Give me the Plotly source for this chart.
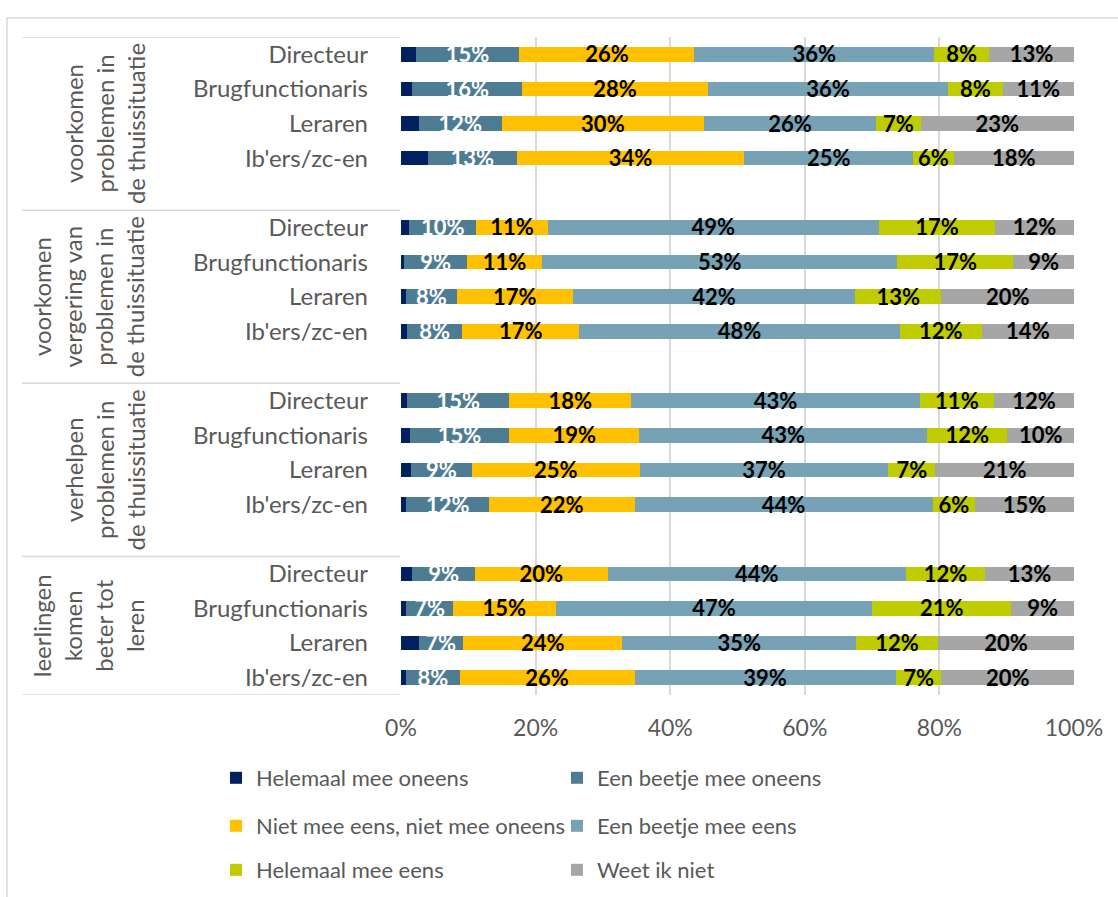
import plotly.graph_objects as go

# ---------------- data ----------------
groups = [
    "voorkomen<br>problemen in<br>de thuissituatie",
    "voorkomen<br>vergering van<br>problemen in<br>de thuissituatie",
    "verhelpen<br>problemen in<br>de thuissituatie",
    "leerlingen<br>komen<br>beter tot<br>leren",
]
roles = ["Directeur", "Brugfunctionaris", "Leraren", "Ib'ers/zc-en"]

series_names = [
    "Helemaal mee oneens",
    "Een beetje mee oneens",
    "Niet mee eens, niet mee oneens",
    "Een beetje mee eens",
    "Helemaal mee eens",
    "Weet ik niet",
]

# values per bar, in order: group 1 (Directeur, Brugf., Leraren, Ib'ers), group 2, group 3, group 4
helemaal_oneens = [2.2, 1.7, 2.6, 4.0, 1.2, 0.5, 0.7, 0.9, 0.9, 1.3, 1.5, 0.8, 1.7, 0.8, 2.6, 0.8]
beetje_oneens   = [15.4, 16.3, 12.4, 13.2, 10.0, 9.3, 7.6, 8.2, 15.2, 14.8, 9.0, 12.3, 9.3, 6.9, 6.6, 7.9]
neutraal        = [26.0, 27.6, 30.0, 33.8, 10.6, 11.2, 17.2, 17.4, 18.1, 19.3, 25.0, 21.6, 19.7, 15.3, 23.7, 26.0]
beetje_eens     = [35.6, 35.7, 25.6, 25.1, 49.2, 52.7, 42.0, 47.6, 42.9, 42.8, 36.9, 44.3, 44.3, 47.0, 34.7, 38.8]
helemaal_eens   = [8.2, 8.1, 6.6, 6.0, 17.3, 17.3, 12.8, 12.2, 11.0, 11.9, 7.0, 6.3, 11.8, 20.7, 12.2, 6.8]
weet_niet       = [12.6, 10.6, 22.8, 17.9, 11.7, 9.0, 19.7, 13.7, 11.9, 9.9, 20.6, 14.7, 13.2, 9.3, 20.2, 19.7]

x_ticks = [0, 20, 40, 60, 80, 100]

# ---------------- style ----------------
colors = ["#002060", "#4E7D93", "#FFC000", "#77A2B5", "#BFCC00", "#A6A6A6"]
label_colors = [None, "#FFFFFF", "#000000", "#000000", "#000000", "#000000"]
FONT = "Lato"
GRAY = "#595959"
LINE = "#D9D9D9"

W, H = 1118, 897
L, R, T, B = 401, 44, 37, 202
PW, PH = W - L - R, H - T - B


def px_x(px):
    return (px - L) / PW


def px_y(py):
    return (H - B - py) / PH


# slot positions: 4 bars per group + one blank slot between groups
slots = [g * 5 + i for g in range(len(groups)) for i in range(len(roles))]
ticktext = [roles[i] for g in range(len(groups)) for i in range(len(roles))]
n_slots = len(groups) * 5 - 1
slot_px = PH / n_slots
label_drop = 2.5 / slot_px  # data labels sit a little below the bar centre

all_series = [helemaal_oneens, beetje_oneens, neutraal, beetje_eens, helemaal_eens, weet_niet]
legend_ids = ["legend", "legend", "legend2", "legend2", "legend3", "legend3"]
legend_widths = [296, 400, 296, 400, 296, 400]

fig = go.Figure()
base = [0.0] * len(slots)
label_traces = []
for k, (name, vals) in enumerate(zip(series_names, all_series)):
    fig.add_trace(go.Bar(
        orientation="h",
        y=slots,
        x=vals,
        name=name,
        marker=dict(color=colors[k], line=dict(width=0)),
        width=0.42,
        textposition="none",
        cliponaxis=False,
        legend=legend_ids[k],
        legendwidth=legend_widths[k],
        hoverinfo="skip",
    ))
    centers = [b + v / 2 for b, v in zip(base, vals)]
    base = [b + v for b, v in zip(base, vals)]
    if label_colors[k] is not None:
        label_traces.append(go.Scatter(
            x=centers, y=[s + label_drop for s in slots], mode="text",
            text=[f"{v:.0f}%" for v in vals],
            textposition="middle center",
            textfont=dict(family=FONT, size=22, color=label_colors[k], weight="bold"),
            cliponaxis=False, showlegend=False, hoverinfo="skip",
        ))
for tr in label_traces:
    fig.add_trace(tr)

# group separators
bounds = [-0.5] + [g * 5 + 4.5 for g in range(len(groups) - 1)] + [n_slots - 0.5]
shapes = []
for b in bounds:
    shapes.append(dict(type="line", xref="paper", yref="y", x0=px_x(22), x1=px_x(400),
                       y0=b, y1=b, line=dict(color=LINE, width=1.5)))
# chart border
shapes.append(dict(type="rect", xref="paper", yref="paper", x0=px_x(7), x1=px_x(1130),
                   y0=px_y(910), y1=px_y(18), line=dict(color=LINE, width=1.5), layer="below"))

annotations = []
for g, txt in enumerate(groups):
    yc = (bounds[g] + bounds[g + 1]) / 2
    annotations.append(dict(
        text=txt, xref="paper", yref="y", x=px_x(152), y=yc,
        xanchor="right", yanchor="middle", textangle=-90, showarrow=False,
        align="center", font=dict(family=FONT, size=24, color=GRAY),
    ))

legend_common = dict(orientation="h", xanchor="left", yanchor="middle", traceorder="normal",
                     font=dict(family=FONT, size=22, color=GRAY),
                     bgcolor="rgba(0,0,0,0)",
                     itemclick=False, itemdoubleclick=False)

fig.update_layout(
    width=W, height=H,
    margin=dict(l=L, r=R, t=T, b=B, autoexpand=False),
    paper_bgcolor="white", plot_bgcolor="white",
    barmode="stack",
    showlegend=True,
    font=dict(family=FONT, color=GRAY),
    xaxis=dict(range=[0, 100], tickvals=x_ticks, ticktext=[f"{v}%" for v in x_ticks],
               showgrid=True, gridcolor=LINE, gridwidth=1.5, zeroline=False, showline=False,
               ticks="", ticklabelstandoff=17,
               tickfont=dict(family=FONT, size=23, color=GRAY), fixedrange=True),
    yaxis=dict(range=[n_slots - 0.5, -0.5], tickvals=slots, ticktext=ticktext,
               showgrid=False, zeroline=False, showline=False, ticks="",
               ticklabelstandoff=32,
               tickfont=dict(family=FONT, size=24, color=GRAY), fixedrange=True),
    legend=dict(x=px_x(216), y=px_y(778), **legend_common),
    legend2=dict(x=px_x(216), y=px_y(826), **legend_common),
    legend3=dict(x=px_x(216), y=px_y(870), **legend_common),
    shapes=shapes,
    annotations=annotations,
)

fig.write_html("out.html", config={"displayModeBar": False},
               post_script="document.body.style.margin='0px';")
